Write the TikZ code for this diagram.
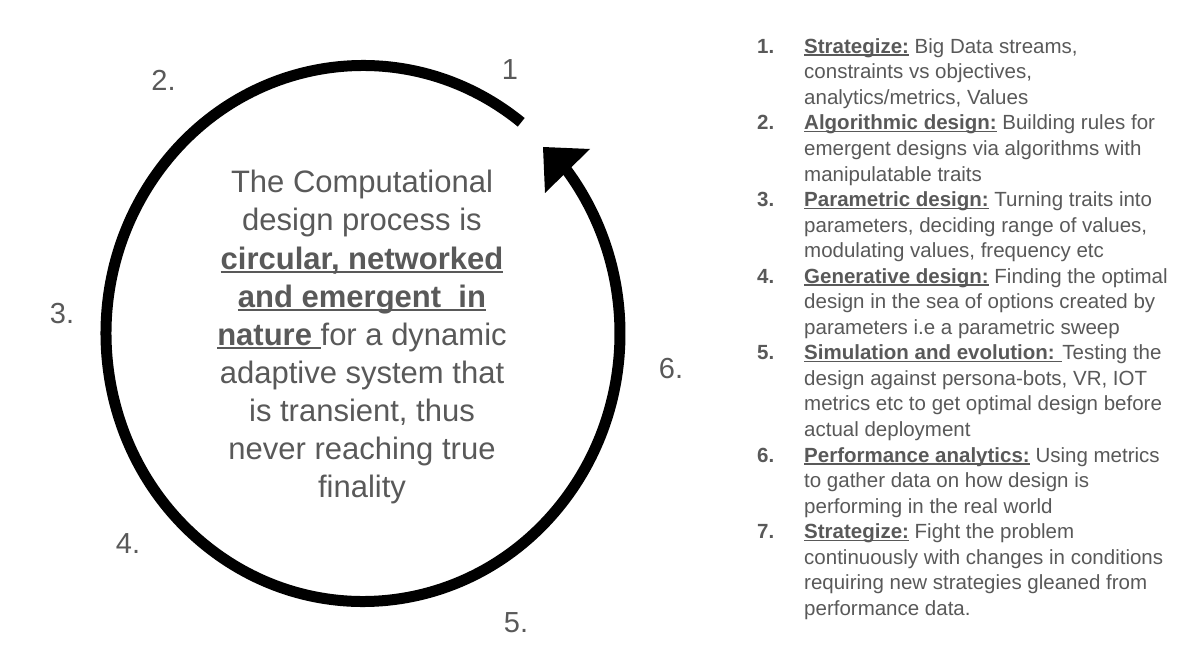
\documentclass[tikz,border=0pt]{standalone}
\usepackage{fontspec}
\setmainfont{Liberation Sans}
\usepackage{array}
\definecolor{txt}{HTML}{595959}
\newcommand\myul[1]{\setbox0\hbox{#1}\rlap{\rule[-0.12em]{\wd0}{0.07em}}\box0\relax}
\tikzset{
  lbl/.style={inner sep=0pt, text=txt, anchor=base, font=\fontsize{29}{35}\selectfont},
  ring/.style={line width=11pt, black},
}
\begin{document}
\begin{tikzpicture}[x=1pt,y=1pt]
\useasboundingbox[fill=white] (0,0) rectangle (1198,657);
\coordinate (c) at (363,323.5);
% ring with arrow head
\draw[ring] ([shift={(52:257 and 268)}]c) arc[start angle=52, end angle=397.5, x radius=257, y radius=268] coordinate (e);
\coordinate (h1) at (543,510);
\coordinate (h2) at (545,464);
\coordinate (h3) at (590,508);
\fill[black] (h1) -- (h2) -- (h3) -- cycle;
% step labels
\node[lbl] (n1) at (510,577) {1};
\node[lbl] (n2) at (163.5,566) {2.};
\node[lbl] (n3) at (62,334) {3.};
\node[lbl] (n4) at (128,104) {4.};
\node[lbl] (n5) at (516,25) {5.};
\node[lbl] (n6) at (671,279) {6.};
% central text
\node[inner sep=0pt, text=txt, anchor=base, font=\fontsize{31}{38}\selectfont] (mid) at (362,464) {%
\begin{tabular}[t]{@{}c@{}}
The Computational\\
design process is\\
\myul{\textbf{circular, networked}}\\
\myul{\textbf{and emergent\ \ in}}\\
\myul{\textbf{nature }}for a dynamic\\
adaptive system that\\
is transient, thus\\
never reaching true\\
finality
\end{tabular}};
% list
\node[inner sep=0pt, text=txt, anchor=base west, font=\fontsize{20.5}{25.55}\selectfont] (list) at (757,603.7) {%
\begin{tabular}[t]{@{}>{\bfseries}p{47pt}@{}l@{}}
1. & \myul{\textbf{Strategize:}} Big Data streams,\\
   & constraints vs objectives,\\
   & analytics/metrics, Values\\
2. & \myul{\textbf{Algorithmic design:}} Building rules for\\
   & emergent designs via algorithms with\\
   & manipulatable traits\\
3. & \myul{\textbf{Parametric design:}} Turning traits into\\
   & parameters, deciding range of values,\\
   & modulating values, frequency etc\\
4. & \myul{\textbf{Generative design:}} Finding the optimal\\
   & design in the sea of options created by\\
   & parameters i.e a parametric sweep\\
5. & \myul{\textbf{Simulation and evolution: }}Testing the\\
   & design against persona-bots, VR, IOT\\
   & metrics etc to get optimal design before\\
   & actual deployment\\
6. & \myul{\textbf{Performance analytics:}} Using metrics\\
   & to gather data on how design is\\
   & performing in the real world\\
7. & \myul{\textbf{Strategize:}} Fight the problem\\
   & continuously with changes in conditions\\
   & requiring new strategies gleaned from\\
   & performance data.
\end{tabular}};
\end{tikzpicture}
\end{document}
